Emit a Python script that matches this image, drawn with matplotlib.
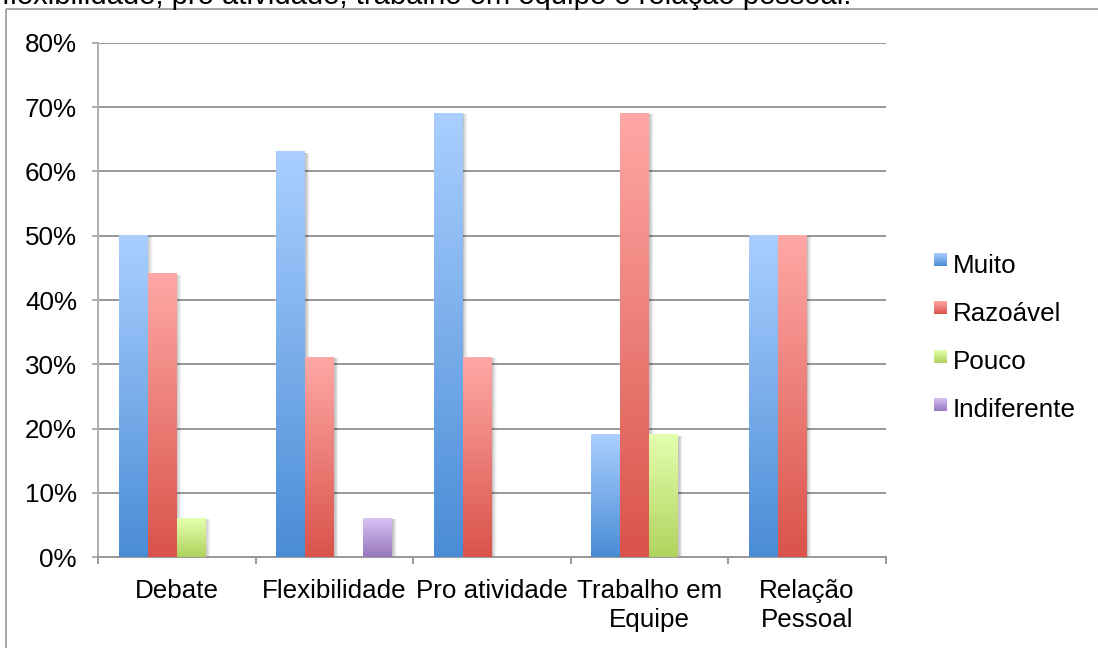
import numpy as np
import matplotlib
matplotlib.use("Agg")
import matplotlib.pyplot as plt
from matplotlib import patheffects as pe
from matplotlib.colors import LinearSegmentedColormap

plt.rcParams['font.family'] = ['Liberation Sans', 'DejaVu Sans']

# ---- data -------------------------------------------------------------
title = "flexibilidade, pro atividade, trabalho em equipe e relação pessoal."
categories = ["Debate", "Flexibilidade", "Pro atividade", "Trabalho em\nEquipe", "Relação\nPessoal"]
series_names = ["Muito", "Razoável", "Pouco", "Indiferente"]
muito = [50, 63, 69, 19, 50]
razoavel = [44, 31, 31, 69, 50]
pouco = [6, 0, 0, 19, 0]
indiferente = [0, 6, 0, 0, 0]
y_ticks = [0, 10, 20, 30, 40, 50, 60, 70, 80]

series_values = [muito, razoavel, pouco, indiferente]
# (top colour, bottom colour) for each series gradient
series_colors = [("#AACFFF", "#4A8CD6"),
                 ("#FFA8A5", "#D9534A"),
                 ("#E4FFAF", "#B0D35E"),
                 ("#D7C2F3", "#9877BD")]

W, H = 1098, 648
DPI = 100
fig = plt.figure(figsize=(W / DPI, H / DPI), dpi=DPI)
px = 72.0 / DPI  # points per pixel

left, right, top, bottom = 98.0, 885.7, 42.7, 557.3
ax = fig.add_axes([left / W, 1 - bottom / H, (right - left) / W, (bottom - top) / H])

n_cat = len(categories)
ax.set_xlim(-0.5, n_cat - 0.5)
ax.set_ylim(0, 80)
ax.set_autoscale_on(False)

grid_col = "#9A9A9A"
ax.set_axisbelow(True)
ax.yaxis.grid(True, color=grid_col, linewidth=2 * px)
ax.xaxis.grid(False)
for s in ("top", "right"):
    ax.spines[s].set_visible(False)
ax.spines["left"].set_color("#B0B0B0")
ax.spines["left"].set_linewidth(2 * px)
ax.spines["bottom"].set_color(grid_col)
ax.spines["bottom"].set_linewidth(2 * px)

ax.set_yticks(y_ticks)
ax.set_yticklabels([f"{v}%" for v in y_ticks])
ax.tick_params(axis="y", length=6 * px, width=2 * px, color="#B0B0B0",
               pad=15 * px, labelsize=26 * px)

# category boundaries carry the tick marks, centres carry the labels
ax.set_xticks(np.arange(-0.5, n_cat, 1.0))
ax.set_xticklabels([])
ax.tick_params(axis="x", which="major", length=7 * px, width=2 * px, color=grid_col)
ax.set_xticks(np.arange(n_cat), minor=True)
ax.set_xticklabels(categories, minor=True, fontsize=26 * px, linespacing=1.25)
ax.tick_params(axis="x", which="minor", length=0, pad=22 * px)

bar_w = 0.184
n_ser = len(series_values)
grad = np.linspace(0, 1, 256).reshape(-1, 1)
# soft drop shadow to the right of each bar
shadow = [pe.SimplePatchShadow(offset=(o, -0.4), shadow_rgbFace="black", alpha=a)
          for o, a in ((3.4, 0.025), (2.8, 0.035), (2.2, 0.045), (1.6, 0.05),
                       (1.0, 0.05), (0.5, 0.05))] + [pe.Normal()]

for si, (vals, (c_top, c_bot)) in enumerate(zip(series_values, series_colors)):
    cmap = LinearSegmentedColormap.from_list(f"g{si}", [c_bot, c_top])
    xs = np.arange(n_cat) + (si - (n_ser - 1) / 2) * bar_w
    bars = ax.bar(xs, vals, width=bar_w, color=c_bot, linewidth=0, zorder=2)
    for rect, v in zip(bars, vals):
        if v <= 0:
            rect.set_visible(False)
            continue
        rect.set_path_effects(shadow)
        x0 = rect.get_x()
        ax.imshow(grad, cmap=cmap, origin="lower", aspect="auto",
                  extent=(x0, x0 + bar_w, 0, v), zorder=3, interpolation="bilinear")

ax.set_xlim(-0.5, n_cat - 0.5)
ax.set_ylim(0, 80)

# overlay in pixel coordinates for the frame, heading and legend
ov = fig.add_axes([0, 0, 1, 1], zorder=-1)
ov.set_xlim(0, W)
ov.set_ylim(H, 0)
ov.axis("off")
frame_col = "#A8A8A8"
ov.plot([6, 6], [9, H + 5], color=frame_col, lw=2 * px, solid_capstyle="butt")
ov.plot([6, W + 5], [9, 9], color=frame_col, lw=2 * px, solid_capstyle="butt")

fig.text(2 / W, 1 - 3.5 / H, title, ha="left", va="baseline", fontsize=29.2 * px)

leg = fig.add_axes([0, 0, 1, 1], zorder=5)
leg.set_xlim(0, W)
leg.set_ylim(H, 0)
leg.axis("off")
leg.set_autoscale_on(False)
for i, (name, (c_top, c_bot)) in enumerate(zip(series_names, series_colors)):
    cmap = LinearSegmentedColormap.from_list(f"l{i}", [c_top, c_bot])
    y0 = 254 + 48.2 * i
    leg.imshow(grad, cmap=cmap, origin="upper", aspect="auto",
               extent=(934, 946.7, y0 + 12.3, y0), interpolation="bilinear")
    leg.text(952.7, 272.7 + 48.0 * i, name, ha="left", va="baseline", fontsize=26 * px)
leg.set_xlim(0, W)
leg.set_ylim(H, 0)

fig.savefig("out.png", dpi=DPI)
